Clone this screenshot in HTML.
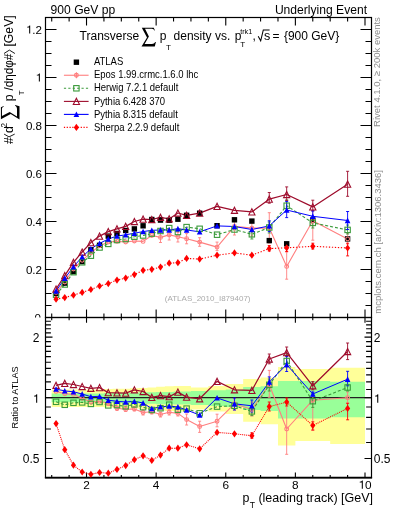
<!DOCTYPE html><html><head><meta charset="utf-8"><style>html,body{margin:0;padding:0;width:393px;height:512px;overflow:hidden;background:#fff}</style></head><body>
<svg width="393" height="512" viewBox="0 0 393 512" style="position:absolute;left:0;top:0;will-change:transform">
<rect width="393" height="512" fill="#fff"/>
<path d="M51.71,389.46 L60.41,389.46 L60.41,389.46 L69.12,389.46 L69.12,389.46 L77.82,389.46 L77.82,389.46 L86.52,389.46 L86.52,389.46 L95.22,389.46 L95.22,389.46 L103.93,389.46 L103.93,389.06 L112.63,389.06 L112.63,388.67 L121.33,388.67 L121.33,388.67 L130.03,388.67 L130.03,388.28 L138.74,388.28 L138.74,387.88 L147.44,387.88 L147.44,387.49 L156.14,387.49 L156.14,386.72 L164.84,386.72 L164.84,386.34 L173.55,386.34 L173.55,385.95 L182.25,385.95 L182.25,385.95 L190.95,385.95 L190.95,387.49 L208.36,387.49 L208.36,385.95 L225.76,385.95 L225.76,384.06 L243.17,384.06 L243.17,378.98 L260.57,378.98 L260.57,377.58 L277.98,377.58 L277.98,367.12 L295.38,367.12 L295.38,368.99 L330.19,368.99 L330.19,367.74 L365.00,367.74 L365.00,443.97 L330.19,443.97 L330.19,441.05 L295.38,441.05 L295.38,445.46 L277.98,445.46 L277.98,424.15 L260.57,424.15 L260.57,421.81 L243.17,421.81 L243.17,414.10 L225.76,414.10 L225.76,411.51 L208.36,411.51 L208.36,409.48 L190.95,409.48 L190.95,411.51 L182.25,411.51 L182.25,411.51 L173.55,411.51 L173.55,411.00 L164.84,411.00 L164.84,410.49 L156.14,410.49 L156.14,409.48 L147.44,409.48 L147.44,408.99 L138.74,408.99 L138.74,408.49 L130.03,408.49 L130.03,408.00 L121.33,408.00 L121.33,408.00 L112.63,408.00 L112.63,407.51 L103.93,407.51 L103.93,407.02 L95.22,407.02 L95.22,407.02 L86.52,407.02 L86.52,407.02 L77.82,407.02 L77.82,407.02 L69.12,407.02 L69.12,407.02 L60.41,407.02 L60.41,407.02 L51.71,407.02Z" fill="#ffff99"/>
<path d="M51.71,393.53 L60.41,393.53 L60.41,393.53 L69.12,393.53 L69.12,393.53 L77.82,393.53 L77.82,393.53 L86.52,393.53 L86.52,393.53 L95.22,393.53 L95.22,393.53 L103.93,393.53 L103.93,393.12 L112.63,393.12 L112.63,393.12 L121.33,393.12 L121.33,392.70 L130.03,392.70 L130.03,392.70 L138.74,392.70 L138.74,392.29 L147.44,392.29 L147.44,392.29 L156.14,392.29 L156.14,391.88 L164.84,391.88 L164.84,391.88 L173.55,391.88 L173.55,391.47 L182.25,391.47 L182.25,391.47 L190.95,391.47 L190.95,391.07 L208.36,391.07 L208.36,390.26 L225.76,390.26 L225.76,389.46 L243.17,389.46 L243.17,387.11 L260.57,387.11 L260.57,386.34 L277.98,386.34 L277.98,381.12 L295.38,381.12 L295.38,381.12 L330.19,381.12 L330.19,381.85 L365.00,381.85 L365.00,417.33 L330.19,417.33 L330.19,418.43 L295.38,418.43 L295.38,418.43 L277.98,418.43 L277.98,411.00 L260.57,411.00 L260.57,409.99 L243.17,409.99 L243.17,407.02 L225.76,407.02 L225.76,406.05 L208.36,406.05 L208.36,405.10 L190.95,405.10 L190.95,404.62 L182.25,404.62 L182.25,404.62 L173.55,404.62 L173.55,404.15 L164.84,404.15 L164.84,404.15 L156.14,404.15 L156.14,403.68 L147.44,403.68 L147.44,403.68 L138.74,403.68 L138.74,403.21 L130.03,403.21 L130.03,403.21 L121.33,403.21 L121.33,402.75 L112.63,402.75 L112.63,402.75 L103.93,402.75 L103.93,402.29 L95.22,402.29 L95.22,402.29 L86.52,402.29 L86.52,402.29 L77.82,402.29 L77.82,402.29 L69.12,402.29 L69.12,402.29 L60.41,402.29 L60.41,402.29 L51.71,402.29Z" fill="#99ff99"/>
<line x1="45.5" y1="397.6" x2="371.5" y2="397.6" stroke="#222" stroke-width="1.1"/>
<g stroke="#000" stroke-width="1.2" fill="none">
<rect x="45.5" y="17.5" width="326.0" height="300.0"/>
<rect x="45.5" y="317.5" width="326.0" height="160.2"/>
</g>
<line x1="44.9" y1="477.6" x2="372.1" y2="477.6" stroke="#000" stroke-width="1.9"/>
<path d="M45.5,317.50h11M371.5,317.50h-11M45.5,305.50h6M371.5,305.50h-6M45.5,293.50h6M371.5,293.50h-6M45.5,281.50h6M371.5,281.50h-6M45.5,269.50h11M371.5,269.50h-11M45.5,257.50h6M371.5,257.50h-6M45.5,245.50h6M371.5,245.50h-6M45.5,233.50h6M371.5,233.50h-6M45.5,221.50h11M371.5,221.50h-11M45.5,209.50h6M371.5,209.50h-6M45.5,197.50h6M371.5,197.50h-6M45.5,185.50h6M371.5,185.50h-6M45.5,173.50h11M371.5,173.50h-11M45.5,161.50h6M371.5,161.50h-6M45.5,149.50h6M371.5,149.50h-6M45.5,137.50h6M371.5,137.50h-6M45.5,125.50h11M371.5,125.50h-11M45.5,113.50h6M371.5,113.50h-6M45.5,101.50h6M371.5,101.50h-6M45.5,89.50h6M371.5,89.50h-6M45.5,77.50h11M371.5,77.50h-11M45.5,65.50h6M371.5,65.50h-6M45.5,53.50h6M371.5,53.50h-6M45.5,41.50h6M371.5,41.50h-6M45.5,29.50h11M371.5,29.50h-11M45.5,17.50h6M371.5,17.50h-6M51.71,317.5v-4M51.71,17.5v4M51.71,317.5v2.7M51.71,477.7v-2.7M69.12,317.5v-4M69.12,17.5v4M69.12,317.5v2.7M69.12,477.7v-2.7M86.52,317.5v-8M86.52,17.5v8M86.52,317.5v5.3M86.52,477.7v-5.3M103.93,317.5v-4M103.93,17.5v4M103.93,317.5v2.7M103.93,477.7v-2.7M121.33,317.5v-4M121.33,17.5v4M121.33,317.5v2.7M121.33,477.7v-2.7M138.74,317.5v-4M138.74,17.5v4M138.74,317.5v2.7M138.74,477.7v-2.7M156.14,317.5v-8M156.14,17.5v8M156.14,317.5v5.3M156.14,477.7v-5.3M173.55,317.5v-4M173.55,17.5v4M173.55,317.5v2.7M173.55,477.7v-2.7M190.95,317.5v-4M190.95,17.5v4M190.95,317.5v2.7M190.95,477.7v-2.7M208.36,317.5v-4M208.36,17.5v4M208.36,317.5v2.7M208.36,477.7v-2.7M225.76,317.5v-8M225.76,17.5v8M225.76,317.5v5.3M225.76,477.7v-5.3M243.17,317.5v-4M243.17,17.5v4M243.17,317.5v2.7M243.17,477.7v-2.7M260.57,317.5v-4M260.57,17.5v4M260.57,317.5v2.7M260.57,477.7v-2.7M277.98,317.5v-4M277.98,17.5v4M277.98,317.5v2.7M277.98,477.7v-2.7M295.38,317.5v-8M295.38,17.5v8M295.38,317.5v5.3M295.38,477.7v-5.3M312.78,317.5v-4M312.78,17.5v4M312.78,317.5v2.7M312.78,477.7v-2.7M330.19,317.5v-4M330.19,17.5v4M330.19,317.5v2.7M330.19,477.7v-2.7M347.60,317.5v-4M347.60,17.5v4M347.60,317.5v2.7M347.60,477.7v-2.7M365.00,317.5v-8M365.00,17.5v8M365.00,317.5v5.3M365.00,477.7v-5.3M45.5,458.45h7M371.5,458.45h-7M45.5,442.50h5.4M371.5,442.50h-5.4M45.5,429.01h5.4M371.5,429.01h-5.4M45.5,417.33h5.4M371.5,417.33h-5.4M45.5,407.02h5.4M371.5,407.02h-5.4M45.5,397.80h7M371.5,397.80h-7M45.5,389.46h5.4M371.5,389.46h-5.4M45.5,381.85h5.4M371.5,381.85h-5.4M45.5,374.84h5.4M371.5,374.84h-5.4M45.5,368.36h5.4M371.5,368.36h-5.4M45.5,362.32h5.4M371.5,362.32h-5.4M45.5,356.67h5.4M371.5,356.67h-5.4M45.5,351.37h5.4M371.5,351.37h-5.4M45.5,346.37h5.4M371.5,346.37h-5.4M45.5,341.64h5.4M371.5,341.64h-5.4M45.5,337.15h7M371.5,337.15h-7M45.5,332.88h5.4M371.5,332.88h-5.4M45.5,328.81h5.4M371.5,328.81h-5.4M45.5,324.92h5.4M371.5,324.92h-5.4M45.5,321.20h5.4M371.5,321.20h-5.4" stroke="#000" stroke-width="1.1" fill="none"/>
<g><path d="M29.17,33.60 L30.20,33.60 L30.20,25.45 L29.36,25.45 L29.18,25.94 L28.83,26.35 L28.20,26.64 L27.14,26.76 L27.14,27.51 L29.17,27.51Z" fill="#000"/><text x="32.33" y="33.60" font-family="Liberation Sans, sans-serif" font-size="11.6">.2</text></g>
<g><path d="M38.84,81.60 L39.88,81.60 L39.88,73.45 L39.03,73.45 L38.86,73.94 L38.51,74.35 L37.87,74.64 L36.81,74.76 L36.81,75.51 L38.84,75.51Z" fill="#000"/></g>
<g><text x="25.88" y="129.60" font-family="Liberation Sans, sans-serif" font-size="11.6">0.8</text></g>
<g><text x="25.88" y="177.60" font-family="Liberation Sans, sans-serif" font-size="11.6">0.6</text></g>
<g><text x="25.88" y="225.60" font-family="Liberation Sans, sans-serif" font-size="11.6">0.4</text></g>
<g><text x="25.88" y="273.60" font-family="Liberation Sans, sans-serif" font-size="11.6">0.2</text></g>
<clipPath id="c0"><rect x="0" y="0" width="45" height="317.5"/></clipPath>
<g clip-path="url(#c0)"><text x="34.55" y="321.60" font-family="Liberation Sans, sans-serif" font-size="11.6">0</text></g>
<g><text x="32.73" y="342.15" font-family="Liberation Sans, sans-serif" font-size="12.0">2</text></g>
<g><path d="M36.14,402.80 L37.20,402.80 L37.20,394.36 L36.33,394.36 L36.15,394.88 L35.79,395.30 L35.13,395.60 L34.04,395.72 L34.04,396.50 L36.14,396.50Z" fill="#000"/></g>
<g><text x="22.72" y="463.45" font-family="Liberation Sans, sans-serif" font-size="12.0">0.5</text></g>
<g><text x="373.80" y="342.15" font-family="Liberation Sans, sans-serif" font-size="12.0">2</text></g>
<g><path d="M377.21,402.80 L378.28,402.80 L378.28,394.36 L377.40,394.36 L377.22,394.88 L376.86,395.30 L376.20,395.60 L375.11,395.72 L375.11,396.50 L377.21,396.50Z" fill="#000"/></g>
<g><text x="373.80" y="463.45" font-family="Liberation Sans, sans-serif" font-size="12.0">0.5</text></g>
<g><text x="83.24" y="488.70" font-family="Liberation Sans, sans-serif" font-size="11.8">2</text></g>
<g><text x="152.86" y="488.70" font-family="Liberation Sans, sans-serif" font-size="11.8">4</text></g>
<g><text x="222.48" y="488.70" font-family="Liberation Sans, sans-serif" font-size="11.8">6</text></g>
<g><text x="292.10" y="488.70" font-family="Liberation Sans, sans-serif" font-size="11.8">8</text></g>
<g><path d="M361.79,488.70 L362.84,488.70 L362.84,480.40 L361.98,480.40 L361.80,480.91 L361.45,481.32 L360.80,481.62 L359.73,481.74 L359.73,482.50 L361.79,482.50Z" fill="#000"/><text x="365.00" y="488.70" font-family="Liberation Sans, sans-serif" font-size="11.8">0</text></g>
<text x="50.6" y="13.7" font-family="Liberation Sans, sans-serif" font-size="12.1">900 GeV pp</text>
<text x="367.0" y="13.7" font-family="Liberation Sans, sans-serif" font-size="12.1" text-anchor="end">Underlying Event</text>
<g font-family="Liberation Sans, sans-serif" font-size="12.0" fill="#000">
<text x="79.6" y="40.0">Transverse</text>
<path d="M1.8,1.8 L13.8,1.8 L14.9,4.6 L14.3,4.6 C13.9,3.6 13.2,2.85 11.8,2.85 L5.0,2.85 L8.9,10.6 L4.6,17.9 L12.0,17.9 C13.4,17.9 14.6,17.2 15.2,16.0 L15.9,16.0 L14.8,20.4 L1.5,20.4 L7.0,11.6 Z" transform="translate(140,26)" fill="#000"/>
<text x="159.8" y="40.0">p</text>
<text x="166.0" y="50.0" font-size="8.1">T</text>
<text x="173.6" y="40.0">density vs.</text>
<text x="234.7" y="40.0">p</text>
<text x="240.2" y="33.6" font-size="7.2">trk1</text>
<text x="240.3" y="46.6" font-size="8.1">T</text>
<text x="252.4" y="40.0">,</text>
<path d="M258.2,36.2 L260.7,40.8 L263.3,29.9 L269.6,29.9" stroke="#000" stroke-width="1.05" fill="none"/>
<text x="263.9" y="40.0" font-size="12.6">s</text>
<text x="272.6" y="40.0">=</text>
<text x="283.9" y="40.0">{900 GeV}</text>
</g>
<g font-family="Liberation Sans, sans-serif" font-size="9.5" fill="#000">
<text transform="translate(93.9,65.30) scale(1,1.08)">ATLAS</text>
<text transform="translate(93.9,78.35) scale(1,1.08)">Epos 1.99.crmc.1.6.0 lhc</text>
<text transform="translate(93.9,91.40) scale(1,1.08)">Herwig 7.2.1 default</text>
<text transform="translate(93.9,104.50) scale(1,1.08)">Pythia 6.428 370</text>
<text transform="translate(93.9,117.50) scale(1,1.08)">Pythia 8.315 default</text>
<text transform="translate(93.9,130.50) scale(1,1.08)">Sherpa 2.2.9 default</text>
</g>
<rect x="73.70" y="59.50" width="5.4" height="5.4" fill="#000"/>
<line x1="63.9" y1="75.25" x2="88.6" y2="75.25" stroke="#ff7f7f" stroke-width="1.1"/>
<line x1="76.4" y1="72.25" x2="76.4" y2="78.25" stroke="#ff7f7f" stroke-width="1"/>
<circle cx="76.40" cy="75.25" r="1.9" fill="none" stroke="#ff7f7f" stroke-width="1.1"/>
<line x1="63.9" y1="88.3" x2="88.6" y2="88.3" stroke="#3a9a3a" stroke-width="1.1" stroke-dasharray="2.2,2.2"/>
<rect x="73.70" y="85.60" width="5.4" height="5.4" fill="none" stroke="#3a9a3a" stroke-width="1.1"/>
<line x1="63.9" y1="101.4" x2="88.6" y2="101.4" stroke="#9e0c2c" stroke-width="1.1"/>
<path d="M76.40,98.30L79.50,104.50L73.30,104.50Z" fill="none" stroke="#9e0c2c" stroke-width="1.1" stroke-linejoin="miter"/>
<line x1="63.9" y1="114.4" x2="88.6" y2="114.4" stroke="#0000ff" stroke-width="1.1"/>
<path d="M76.40,111.50L79.20,117.10L73.60,117.10Z" fill="#0000ff"/>
<line x1="63.9" y1="127.4" x2="88.6" y2="127.4" stroke="#ff0000" stroke-width="1.1" stroke-dasharray="1.2,1.6"/>
<path d="M76.40,123.80L79.00,127.40L76.40,131.00L73.80,127.40Z" fill="#ff0000"/>
<text transform="translate(379.9,126.9) rotate(-90)" font-family="Liberation Sans, sans-serif" font-size="9.5" fill="#8c8c8c">Rivet 4.1.0, ≥ 200k events</text>
<text transform="translate(381.4,313.7) rotate(-90)" font-family="Liberation Sans, sans-serif" font-size="9.5" fill="#8c8c8c">mcplots.cern.ch [arXiv:1306.3436]</text>
<text x="164.8" y="301.0" font-family="Liberation Sans, sans-serif" font-size="8" fill="#aaa">(ATLAS_2010_I879407)</text>
<g font-family="Liberation Sans, sans-serif" font-size="12.4" fill="#000">
<text x="242.6" y="502.4">p</text>
<text x="249.8" y="508.0" font-size="8.6">T</text>
<text x="258.4" y="502.4" font-size="12.5">(leading track) [GeV]</text>
</g>
<text transform="translate(18.3,428.4) rotate(-90)" font-family="Liberation Sans, sans-serif" font-size="9.2" fill="#000">Ratio to ATLAS</text>
<g transform="translate(13.3,143.7) rotate(-90)" font-family="Liberation Sans, sans-serif" font-size="12.2" fill="#000">
<text x="-0.2" y="0">#</text>
<path d="M9.6,-9.2 L6.8,-4.3 L9.6,1.4" stroke="#000" stroke-width="0.9" fill="none"/>
<text x="10.7" y="0">d</text>
<text x="16.1" y="-6.0" font-size="8.2">2</text>
<path d="M1.8,1.8 L13.8,1.8 L14.9,4.6 L14.3,4.6 C13.9,3.6 13.2,2.85 11.8,2.85 L5.0,2.85 L8.9,10.6 L4.6,17.9 L12.0,17.9 C13.4,17.9 14.6,17.2 15.2,16.0 L15.9,16.0 L14.8,20.4 L1.5,20.4 L7.0,11.6 Z" transform="translate(22.7,-14.2)" fill="#000"/>
<text x="42.5" y="0">p</text>
<text x="48.4" y="10.4" font-size="8">T</text>
<text x="53.3" y="0" textLength="36.6" lengthAdjust="spacingAndGlyphs">/dηdφ#</text>
<path d="M90.2,-9.3 L93.6,-3.9 L90.2,1.6" stroke="#000" stroke-width="0.9" fill="none"/>
<text x="97.2" y="0">[GeV]</text>
</g>
<clipPath id="ctop"><rect x="45.5" y="17.5" width="326.0" height="300.0"/></clipPath>
<clipPath id="crat"><rect x="45.5" y="317.5" width="326.0" height="160.2"/></clipPath>
<g clip-path="url(#ctop)">
<path d="M56.06,292.40 L64.76,282.00 L73.47,269.00 L82.17,260.30 L90.87,252.70 L99.57,245.90 L108.28,242.00 L116.98,241.40 L125.68,242.00 L134.38,241.00 L143.09,241.40 L151.79,235.50 L160.49,237.40 L169.19,234.90 L177.90,236.80 L186.60,238.70 L199.65,242.10 L217.06,247.10 L234.46,226.40 L251.87,228.10 L269.27,228.00 L286.68,266.40 L312.79,220.70 L347.60,238.90" stroke="#ff7f7f" stroke-width="1.1" fill="none" stroke-linejoin="round"/>
<path d="M56.06,294.70 L64.76,284.50 L73.47,272.20 L82.17,262.30 L90.87,255.70 L99.57,247.50 L108.28,243.90 L116.98,240.00 L125.68,239.00 L134.38,236.70 L143.09,235.50 L151.79,233.60 L160.49,231.00 L169.19,228.10 L177.90,232.00 L186.60,227.10 L199.65,228.80 L217.06,234.70 L234.46,229.50 L251.87,234.30 L269.27,227.50 L286.68,205.70 L312.79,222.90 L347.60,229.90" stroke="#3a9a3a" stroke-width="1.1" fill="none" stroke-dasharray="3,2" stroke-linejoin="round"/>
<path d="M56.06,289.00 L64.76,275.70 L73.47,262.30 L82.17,252.00 L90.87,242.60 L99.57,236.10 L108.28,231.60 L116.98,228.90 L125.68,226.40 L134.38,221.50 L143.09,219.10 L151.79,219.50 L160.49,217.30 L169.19,218.90 L177.90,213.00 L186.60,215.40 L199.65,213.20 L217.06,206.40 L234.46,210.30 L251.87,211.90 L269.27,199.20 L286.68,194.50 L312.79,206.90 L347.60,184.20" stroke="#9e0c2c" stroke-width="1.25" fill="none" stroke-linejoin="round"/>
<path d="M56.06,291.00 L64.76,278.40 L73.47,266.70 L82.17,256.90 L90.87,248.80 L99.57,243.40 L108.28,239.00 L116.98,236.10 L125.68,234.80 L134.38,233.20 L143.09,231.60 L151.79,230.30 L160.49,230.00 L169.19,230.00 L177.90,228.70 L186.60,230.00 L199.65,231.80 L217.06,225.90 L234.46,226.50 L251.87,229.50 L269.27,225.90 L286.68,210.00 L312.79,216.30 L347.60,220.50" stroke="#0000ff" stroke-width="1.0" fill="none" stroke-linejoin="round"/>
<path d="M56.06,299.20 L64.76,297.60 L73.47,295.10 L82.17,292.40 L90.87,289.50 L99.57,286.00 L108.28,283.60 L116.98,280.10 L125.68,278.10 L134.38,274.60 L143.09,270.30 L151.79,269.30 L160.49,267.10 L169.19,263.20 L177.90,262.70 L186.60,258.40 L199.65,259.10 L217.06,255.20 L234.46,252.90 L251.87,255.20 L269.27,248.60 L286.68,247.80 L312.79,246.30 L347.60,248.00" stroke="#ff0000" stroke-width="1.1" fill="none" stroke-dasharray="1.3,1.7" stroke-linejoin="round"/>
<path d="M160.49,232.00V242.50M158.99,232.00h3.0M158.99,242.50h3.0M169.19,230.00V240.00M167.69,230.00h3.0M167.69,240.00h3.0M177.90,232.50V242.00M176.40,232.50h3.0M176.40,242.00h3.0M186.60,233.60V243.80M185.10,233.60h3.0M185.10,243.80h3.0M199.65,237.70V246.30M198.15,237.70h3.0M198.15,246.30h3.0M217.06,242.10V250.40M215.56,242.10h3.0M215.56,250.40h3.0M234.46,218.00V235.00M232.96,218.00h3.0M232.96,235.00h3.0M251.87,220.00V236.00M250.37,220.00h3.0M250.37,236.00h3.0M269.27,212.70V243.00M267.77,212.70h3.0M267.77,243.00h3.0M286.68,252.00V279.20M285.18,252.00h3.0M285.18,279.20h3.0M312.79,210.30V240.20M311.29,210.30h3.0M311.29,240.20h3.0M347.60,233.00V244.00M346.10,233.00h3.0M346.10,244.00h3.0" stroke="#ff7f7f" stroke-width="0.9" fill="none"/>
<path d="M251.87,230.50V239.00M250.37,230.50h3.0M250.37,239.00h3.0M269.27,222.00V233.00M267.77,222.00h3.0M267.77,233.00h3.0M286.68,200.00V211.50M285.18,200.00h3.0M285.18,211.50h3.0M312.79,218.00V228.00M311.29,218.00h3.0M311.29,228.00h3.0M347.60,225.00V234.00M346.10,225.00h3.0M346.10,234.00h3.0" stroke="#3a9a3a" stroke-width="0.9" fill="none"/>
<path d="M269.27,192.50V203.20M267.77,192.50h3.0M267.77,203.20h3.0M286.68,186.90V200.40M285.18,186.90h3.0M285.18,200.40h3.0M312.79,200.20V210.90M311.29,200.20h3.0M311.29,210.90h3.0M347.60,171.30V196.30M346.10,171.30h3.0M346.10,196.30h3.0" stroke="#9e0c2c" stroke-width="0.9" fill="none"/>
<path d="M269.27,220.80V231.60M267.77,220.80h3.0M267.77,231.60h3.0M286.68,201.50V217.60M285.18,201.50h3.0M285.18,217.60h3.0M312.79,210.90V221.70M311.29,210.90h3.0M311.29,221.70h3.0M347.60,211.50V229.50M346.10,211.50h3.0M346.10,229.50h3.0" stroke="#0000ff" stroke-width="0.9" fill="none"/>
<path d="M269.27,245.50V251.00M267.77,245.50h3.0M267.77,251.00h3.0M286.68,245.00V251.50M285.18,245.00h3.0M285.18,251.50h3.0M312.79,243.20V249.00M311.29,243.20h3.0M311.29,249.00h3.0M347.60,243.20V255.90M346.10,243.20h3.0M346.10,255.90h3.0" stroke="#ff0000" stroke-width="0.9" fill="none"/>
<rect x="53.36" y="290.80" width="5.4" height="5.4" fill="#000"/>
<rect x="62.06" y="280.40" width="5.4" height="5.4" fill="#000"/>
<rect x="70.77" y="268.90" width="5.4" height="5.4" fill="#000"/>
<rect x="79.47" y="258.90" width="5.4" height="5.4" fill="#000"/>
<rect x="88.17" y="247.10" width="5.4" height="5.4" fill="#000"/>
<rect x="96.87" y="242.60" width="5.4" height="5.4" fill="#000"/>
<rect x="105.58" y="233.40" width="5.4" height="5.4" fill="#000"/>
<rect x="114.28" y="230.80" width="5.4" height="5.4" fill="#000"/>
<rect x="122.98" y="227.80" width="5.4" height="5.4" fill="#000"/>
<rect x="131.68" y="226.20" width="5.4" height="5.4" fill="#000"/>
<rect x="140.39" y="223.10" width="5.4" height="5.4" fill="#000"/>
<rect x="149.09" y="216.80" width="5.4" height="5.4" fill="#000"/>
<rect x="157.79" y="217.40" width="5.4" height="5.4" fill="#000"/>
<rect x="166.49" y="217.60" width="5.4" height="5.4" fill="#000"/>
<rect x="175.20" y="216.50" width="5.4" height="5.4" fill="#000"/>
<rect x="183.90" y="212.60" width="5.4" height="5.4" fill="#000"/>
<rect x="196.95" y="210.50" width="5.4" height="5.4" fill="#000"/>
<rect x="214.36" y="223.00" width="5.4" height="5.4" fill="#000"/>
<rect x="231.76" y="217.10" width="5.4" height="5.4" fill="#000"/>
<rect x="249.17" y="218.40" width="5.4" height="5.4" fill="#000"/>
<rect x="266.57" y="237.90" width="5.4" height="5.4" fill="#000"/>
<rect x="283.98" y="241.10" width="5.4" height="5.4" fill="#000"/>
<rect x="310.09" y="217.30" width="5.4" height="5.4" fill="#000"/>
<rect x="344.90" y="236.20" width="5.4" height="5.4" fill="#000"/>
<circle cx="56.06" cy="292.40" r="1.9" fill="none" stroke="#ff7f7f" stroke-width="1.1"/>
<circle cx="64.76" cy="282.00" r="1.9" fill="none" stroke="#ff7f7f" stroke-width="1.1"/>
<circle cx="73.47" cy="269.00" r="1.9" fill="none" stroke="#ff7f7f" stroke-width="1.1"/>
<circle cx="82.17" cy="260.30" r="1.9" fill="none" stroke="#ff7f7f" stroke-width="1.1"/>
<circle cx="90.87" cy="252.70" r="1.9" fill="none" stroke="#ff7f7f" stroke-width="1.1"/>
<circle cx="99.57" cy="245.90" r="1.9" fill="none" stroke="#ff7f7f" stroke-width="1.1"/>
<circle cx="108.28" cy="242.00" r="1.9" fill="none" stroke="#ff7f7f" stroke-width="1.1"/>
<circle cx="116.98" cy="241.40" r="1.9" fill="none" stroke="#ff7f7f" stroke-width="1.1"/>
<circle cx="125.68" cy="242.00" r="1.9" fill="none" stroke="#ff7f7f" stroke-width="1.1"/>
<circle cx="134.38" cy="241.00" r="1.9" fill="none" stroke="#ff7f7f" stroke-width="1.1"/>
<circle cx="143.09" cy="241.40" r="1.9" fill="none" stroke="#ff7f7f" stroke-width="1.1"/>
<circle cx="151.79" cy="235.50" r="1.9" fill="none" stroke="#ff7f7f" stroke-width="1.1"/>
<circle cx="160.49" cy="237.40" r="1.9" fill="none" stroke="#ff7f7f" stroke-width="1.1"/>
<circle cx="169.19" cy="234.90" r="1.9" fill="none" stroke="#ff7f7f" stroke-width="1.1"/>
<circle cx="177.90" cy="236.80" r="1.9" fill="none" stroke="#ff7f7f" stroke-width="1.1"/>
<circle cx="186.60" cy="238.70" r="1.9" fill="none" stroke="#ff7f7f" stroke-width="1.1"/>
<circle cx="199.65" cy="242.10" r="1.9" fill="none" stroke="#ff7f7f" stroke-width="1.1"/>
<circle cx="217.06" cy="247.10" r="1.9" fill="none" stroke="#ff7f7f" stroke-width="1.1"/>
<circle cx="234.46" cy="226.40" r="1.9" fill="none" stroke="#ff7f7f" stroke-width="1.1"/>
<circle cx="251.87" cy="228.10" r="1.9" fill="none" stroke="#ff7f7f" stroke-width="1.1"/>
<circle cx="269.27" cy="228.00" r="1.9" fill="none" stroke="#ff7f7f" stroke-width="1.1"/>
<circle cx="286.68" cy="266.40" r="1.9" fill="none" stroke="#ff7f7f" stroke-width="1.1"/>
<circle cx="312.79" cy="220.70" r="1.9" fill="none" stroke="#ff7f7f" stroke-width="1.1"/>
<circle cx="347.60" cy="238.90" r="1.9" fill="none" stroke="#ff7f7f" stroke-width="1.1"/>
<rect x="53.36" y="292.00" width="5.4" height="5.4" fill="none" stroke="#3a9a3a" stroke-width="1.1"/>
<rect x="62.06" y="281.80" width="5.4" height="5.4" fill="none" stroke="#3a9a3a" stroke-width="1.1"/>
<rect x="70.77" y="269.50" width="5.4" height="5.4" fill="none" stroke="#3a9a3a" stroke-width="1.1"/>
<rect x="79.47" y="259.60" width="5.4" height="5.4" fill="none" stroke="#3a9a3a" stroke-width="1.1"/>
<rect x="88.17" y="253.00" width="5.4" height="5.4" fill="none" stroke="#3a9a3a" stroke-width="1.1"/>
<rect x="96.87" y="244.80" width="5.4" height="5.4" fill="none" stroke="#3a9a3a" stroke-width="1.1"/>
<rect x="105.58" y="241.20" width="5.4" height="5.4" fill="none" stroke="#3a9a3a" stroke-width="1.1"/>
<rect x="114.28" y="237.30" width="5.4" height="5.4" fill="none" stroke="#3a9a3a" stroke-width="1.1"/>
<rect x="122.98" y="236.30" width="5.4" height="5.4" fill="none" stroke="#3a9a3a" stroke-width="1.1"/>
<rect x="131.68" y="234.00" width="5.4" height="5.4" fill="none" stroke="#3a9a3a" stroke-width="1.1"/>
<rect x="140.39" y="232.80" width="5.4" height="5.4" fill="none" stroke="#3a9a3a" stroke-width="1.1"/>
<rect x="149.09" y="230.90" width="5.4" height="5.4" fill="none" stroke="#3a9a3a" stroke-width="1.1"/>
<rect x="157.79" y="228.30" width="5.4" height="5.4" fill="none" stroke="#3a9a3a" stroke-width="1.1"/>
<rect x="166.49" y="225.40" width="5.4" height="5.4" fill="none" stroke="#3a9a3a" stroke-width="1.1"/>
<rect x="175.20" y="229.30" width="5.4" height="5.4" fill="none" stroke="#3a9a3a" stroke-width="1.1"/>
<rect x="183.90" y="224.40" width="5.4" height="5.4" fill="none" stroke="#3a9a3a" stroke-width="1.1"/>
<rect x="196.95" y="226.10" width="5.4" height="5.4" fill="none" stroke="#3a9a3a" stroke-width="1.1"/>
<rect x="214.36" y="232.00" width="5.4" height="5.4" fill="none" stroke="#3a9a3a" stroke-width="1.1"/>
<rect x="231.76" y="226.80" width="5.4" height="5.4" fill="none" stroke="#3a9a3a" stroke-width="1.1"/>
<rect x="249.17" y="231.60" width="5.4" height="5.4" fill="none" stroke="#3a9a3a" stroke-width="1.1"/>
<rect x="266.57" y="224.80" width="5.4" height="5.4" fill="none" stroke="#3a9a3a" stroke-width="1.1"/>
<rect x="283.98" y="203.00" width="5.4" height="5.4" fill="none" stroke="#3a9a3a" stroke-width="1.1"/>
<rect x="310.09" y="220.20" width="5.4" height="5.4" fill="none" stroke="#3a9a3a" stroke-width="1.1"/>
<rect x="344.90" y="227.20" width="5.4" height="5.4" fill="none" stroke="#3a9a3a" stroke-width="1.1"/>
<path d="M56.06,285.90L59.16,292.10L52.96,292.10Z" fill="none" stroke="#9e0c2c" stroke-width="1.1" stroke-linejoin="miter"/>
<path d="M64.76,272.60L67.86,278.80L61.66,278.80Z" fill="none" stroke="#9e0c2c" stroke-width="1.1" stroke-linejoin="miter"/>
<path d="M73.47,259.20L76.57,265.40L70.37,265.40Z" fill="none" stroke="#9e0c2c" stroke-width="1.1" stroke-linejoin="miter"/>
<path d="M82.17,248.90L85.27,255.10L79.07,255.10Z" fill="none" stroke="#9e0c2c" stroke-width="1.1" stroke-linejoin="miter"/>
<path d="M90.87,239.50L93.97,245.70L87.77,245.70Z" fill="none" stroke="#9e0c2c" stroke-width="1.1" stroke-linejoin="miter"/>
<path d="M99.57,233.00L102.67,239.20L96.47,239.20Z" fill="none" stroke="#9e0c2c" stroke-width="1.1" stroke-linejoin="miter"/>
<path d="M108.28,228.50L111.38,234.70L105.18,234.70Z" fill="none" stroke="#9e0c2c" stroke-width="1.1" stroke-linejoin="miter"/>
<path d="M116.98,225.80L120.08,232.00L113.88,232.00Z" fill="none" stroke="#9e0c2c" stroke-width="1.1" stroke-linejoin="miter"/>
<path d="M125.68,223.30L128.78,229.50L122.58,229.50Z" fill="none" stroke="#9e0c2c" stroke-width="1.1" stroke-linejoin="miter"/>
<path d="M134.38,218.40L137.48,224.60L131.28,224.60Z" fill="none" stroke="#9e0c2c" stroke-width="1.1" stroke-linejoin="miter"/>
<path d="M143.09,216.00L146.19,222.20L139.99,222.20Z" fill="none" stroke="#9e0c2c" stroke-width="1.1" stroke-linejoin="miter"/>
<path d="M151.79,216.40L154.89,222.60L148.69,222.60Z" fill="none" stroke="#9e0c2c" stroke-width="1.1" stroke-linejoin="miter"/>
<path d="M160.49,214.20L163.59,220.40L157.39,220.40Z" fill="none" stroke="#9e0c2c" stroke-width="1.1" stroke-linejoin="miter"/>
<path d="M169.19,215.80L172.29,222.00L166.09,222.00Z" fill="none" stroke="#9e0c2c" stroke-width="1.1" stroke-linejoin="miter"/>
<path d="M177.90,209.90L181.00,216.10L174.80,216.10Z" fill="none" stroke="#9e0c2c" stroke-width="1.1" stroke-linejoin="miter"/>
<path d="M186.60,212.30L189.70,218.50L183.50,218.50Z" fill="none" stroke="#9e0c2c" stroke-width="1.1" stroke-linejoin="miter"/>
<path d="M199.65,210.10L202.75,216.30L196.55,216.30Z" fill="none" stroke="#9e0c2c" stroke-width="1.1" stroke-linejoin="miter"/>
<path d="M217.06,203.30L220.16,209.50L213.96,209.50Z" fill="none" stroke="#9e0c2c" stroke-width="1.1" stroke-linejoin="miter"/>
<path d="M234.46,207.20L237.56,213.40L231.36,213.40Z" fill="none" stroke="#9e0c2c" stroke-width="1.1" stroke-linejoin="miter"/>
<path d="M251.87,208.80L254.97,215.00L248.77,215.00Z" fill="none" stroke="#9e0c2c" stroke-width="1.1" stroke-linejoin="miter"/>
<path d="M269.27,196.10L272.37,202.30L266.17,202.30Z" fill="none" stroke="#9e0c2c" stroke-width="1.1" stroke-linejoin="miter"/>
<path d="M286.68,191.40L289.78,197.60L283.58,197.60Z" fill="none" stroke="#9e0c2c" stroke-width="1.1" stroke-linejoin="miter"/>
<path d="M312.79,203.80L315.89,210.00L309.69,210.00Z" fill="none" stroke="#9e0c2c" stroke-width="1.1" stroke-linejoin="miter"/>
<path d="M347.60,181.10L350.70,187.30L344.50,187.30Z" fill="none" stroke="#9e0c2c" stroke-width="1.1" stroke-linejoin="miter"/>
<path d="M56.06,288.10L58.86,293.70L53.26,293.70Z" fill="#0000ff"/>
<path d="M64.76,275.50L67.56,281.10L61.96,281.10Z" fill="#0000ff"/>
<path d="M73.47,263.80L76.27,269.40L70.67,269.40Z" fill="#0000ff"/>
<path d="M82.17,254.00L84.97,259.60L79.37,259.60Z" fill="#0000ff"/>
<path d="M90.87,245.90L93.67,251.50L88.07,251.50Z" fill="#0000ff"/>
<path d="M99.57,240.50L102.37,246.10L96.77,246.10Z" fill="#0000ff"/>
<path d="M108.28,236.10L111.08,241.70L105.48,241.70Z" fill="#0000ff"/>
<path d="M116.98,233.20L119.78,238.80L114.18,238.80Z" fill="#0000ff"/>
<path d="M125.68,231.90L128.48,237.50L122.88,237.50Z" fill="#0000ff"/>
<path d="M134.38,230.30L137.18,235.90L131.58,235.90Z" fill="#0000ff"/>
<path d="M143.09,228.70L145.89,234.30L140.29,234.30Z" fill="#0000ff"/>
<path d="M151.79,227.40L154.59,233.00L148.99,233.00Z" fill="#0000ff"/>
<path d="M160.49,227.10L163.29,232.70L157.69,232.70Z" fill="#0000ff"/>
<path d="M169.19,227.10L171.99,232.70L166.39,232.70Z" fill="#0000ff"/>
<path d="M177.90,225.80L180.70,231.40L175.10,231.40Z" fill="#0000ff"/>
<path d="M186.60,227.10L189.40,232.70L183.80,232.70Z" fill="#0000ff"/>
<path d="M199.65,228.90L202.45,234.50L196.85,234.50Z" fill="#0000ff"/>
<path d="M217.06,223.00L219.86,228.60L214.26,228.60Z" fill="#0000ff"/>
<path d="M234.46,223.60L237.26,229.20L231.66,229.20Z" fill="#0000ff"/>
<path d="M251.87,226.60L254.67,232.20L249.07,232.20Z" fill="#0000ff"/>
<path d="M269.27,223.00L272.07,228.60L266.47,228.60Z" fill="#0000ff"/>
<path d="M286.68,207.10L289.48,212.70L283.88,212.70Z" fill="#0000ff"/>
<path d="M312.79,213.40L315.59,219.00L309.99,219.00Z" fill="#0000ff"/>
<path d="M347.60,217.60L350.40,223.20L344.80,223.20Z" fill="#0000ff"/>
<path d="M56.06,295.60L58.66,299.20L56.06,302.80L53.46,299.20Z" fill="#ff0000"/>
<path d="M64.76,294.00L67.36,297.60L64.76,301.20L62.16,297.60Z" fill="#ff0000"/>
<path d="M73.47,291.50L76.07,295.10L73.47,298.70L70.87,295.10Z" fill="#ff0000"/>
<path d="M82.17,288.80L84.77,292.40L82.17,296.00L79.57,292.40Z" fill="#ff0000"/>
<path d="M90.87,285.90L93.47,289.50L90.87,293.10L88.27,289.50Z" fill="#ff0000"/>
<path d="M99.57,282.40L102.17,286.00L99.57,289.60L96.97,286.00Z" fill="#ff0000"/>
<path d="M108.28,280.00L110.88,283.60L108.28,287.20L105.68,283.60Z" fill="#ff0000"/>
<path d="M116.98,276.50L119.58,280.10L116.98,283.70L114.38,280.10Z" fill="#ff0000"/>
<path d="M125.68,274.50L128.28,278.10L125.68,281.70L123.08,278.10Z" fill="#ff0000"/>
<path d="M134.38,271.00L136.98,274.60L134.38,278.20L131.78,274.60Z" fill="#ff0000"/>
<path d="M143.09,266.70L145.69,270.30L143.09,273.90L140.49,270.30Z" fill="#ff0000"/>
<path d="M151.79,265.70L154.39,269.30L151.79,272.90L149.19,269.30Z" fill="#ff0000"/>
<path d="M160.49,263.50L163.09,267.10L160.49,270.70L157.89,267.10Z" fill="#ff0000"/>
<path d="M169.19,259.60L171.79,263.20L169.19,266.80L166.59,263.20Z" fill="#ff0000"/>
<path d="M177.90,259.10L180.50,262.70L177.90,266.30L175.30,262.70Z" fill="#ff0000"/>
<path d="M186.60,254.80L189.20,258.40L186.60,262.00L184.00,258.40Z" fill="#ff0000"/>
<path d="M199.65,255.50L202.25,259.10L199.65,262.70L197.05,259.10Z" fill="#ff0000"/>
<path d="M217.06,251.60L219.66,255.20L217.06,258.80L214.46,255.20Z" fill="#ff0000"/>
<path d="M234.46,249.30L237.06,252.90L234.46,256.50L231.86,252.90Z" fill="#ff0000"/>
<path d="M251.87,251.60L254.47,255.20L251.87,258.80L249.27,255.20Z" fill="#ff0000"/>
<path d="M269.27,245.00L271.87,248.60L269.27,252.20L266.67,248.60Z" fill="#ff0000"/>
<path d="M286.68,244.20L289.28,247.80L286.68,251.40L284.08,247.80Z" fill="#ff0000"/>
<path d="M312.79,242.70L315.39,246.30L312.79,249.90L310.19,246.30Z" fill="#ff0000"/>
<path d="M347.60,244.40L350.20,248.00L347.60,251.60L345.00,248.00Z" fill="#ff0000"/>
</g>
<g clip-path="url(#crat)">
<path d="M56.06,391.40 L64.76,393.70 L73.47,394.40 L82.17,398.20 L90.87,402.00 L99.57,401.30 L108.28,403.30 L116.98,408.20 L125.68,409.40 L134.38,408.90 L143.09,412.50 L151.79,411.70 L160.49,414.50 L169.19,412.30 L177.90,413.40 L186.60,419.60 L199.65,426.50 L217.06,421.20 L234.46,403.80 L251.87,409.40 L269.27,384.80 L286.68,429.00 L312.79,400.20 L347.60,397.70" stroke="#ff7f7f" stroke-width="1.1" fill="none" stroke-linejoin="round"/>
<path d="M56.06,401.80 L64.76,404.80 L73.47,402.80 L82.17,402.40 L90.87,403.90 L99.57,402.00 L108.28,405.40 L116.98,405.10 L125.68,406.30 L134.38,404.40 L143.09,407.20 L151.79,410.00 L160.49,408.20 L169.19,404.70 L177.90,409.70 L186.60,408.60 L199.65,413.30 L217.06,406.60 L234.46,405.80 L251.87,411.40 L269.27,384.80 L286.68,361.00 L312.79,401.20 L347.60,387.50" stroke="#3a9a3a" stroke-width="1.1" fill="none" stroke-dasharray="3,2" stroke-linejoin="round"/>
<path d="M56.06,385.30 L64.76,383.40 L73.47,384.50 L82.17,386.50 L90.87,388.30 L99.57,387.60 L108.28,392.60 L116.98,392.90 L125.68,393.20 L134.38,389.80 L143.09,391.50 L151.79,397.40 L160.49,395.70 L169.19,396.70 L177.90,392.10 L186.60,397.10 L199.65,398.80 L217.06,381.40 L234.46,389.80 L251.87,390.40 L269.27,359.00 L286.68,352.60 L312.79,385.80 L347.60,351.50" stroke="#9e0c2c" stroke-width="1.25" fill="none" stroke-linejoin="round"/>
<path d="M56.06,389.10 L64.76,390.90 L73.47,391.80 L82.17,394.00 L90.87,396.70 L99.57,396.30 L108.28,400.20 L116.98,401.30 L125.68,402.00 L134.38,401.30 L143.09,403.00 L151.79,408.60 L160.49,406.90 L169.19,406.10 L177.90,406.90 L186.60,410.00 L199.65,415.00 L217.06,397.90 L234.46,403.80 L251.87,405.80 L269.27,382.00 L286.68,364.60 L312.79,394.00 L347.60,379.20" stroke="#0000ff" stroke-width="1.0" fill="none" stroke-linejoin="round"/>
<path d="M56.06,423.60 L64.76,449.70 L73.47,465.20 L82.17,472.00 L90.87,474.30 L99.57,472.50 L108.28,473.20 L116.98,469.40 L125.68,465.60 L134.38,459.70 L143.09,455.80 L151.79,460.40 L160.49,455.10 L169.19,448.20 L177.90,448.20 L186.60,444.80 L199.65,448.80 L217.06,432.40 L234.46,433.80 L251.87,435.70 L269.27,406.60 L286.68,402.10 L312.79,425.50 L347.60,408.40" stroke="#ff0000" stroke-width="1.1" fill="none" stroke-dasharray="1,1" stroke-linejoin="round"/>
<path d="M108.28,401.00V405.50M106.78,401.00h3.0M106.78,405.50h3.0M116.98,406.00V410.50M115.48,406.00h3.0M115.48,410.50h3.0M125.68,407.00V411.50M124.18,407.00h3.0M124.18,411.50h3.0M134.38,406.50V411.00M132.88,406.50h3.0M132.88,411.00h3.0M143.09,410.00V415.00M141.59,410.00h3.0M141.59,415.00h3.0M151.79,409.50V414.00M150.29,409.50h3.0M150.29,414.00h3.0M160.49,412.00V417.00M158.99,412.00h3.0M158.99,417.00h3.0M169.19,409.50V415.00M167.69,409.50h3.0M167.69,415.00h3.0M177.90,411.00V416.00M176.40,411.00h3.0M176.40,416.00h3.0M186.60,414.00V425.00M185.10,414.00h3.0M185.10,425.00h3.0M199.65,421.20V432.40M198.15,421.20h3.0M198.15,432.40h3.0M217.06,414.20V426.80M215.56,414.20h3.0M215.56,426.80h3.0M234.46,398.80V410.00M232.96,398.80h3.0M232.96,410.00h3.0M251.87,402.00V416.00M250.37,402.00h3.0M250.37,416.00h3.0M269.27,370.40V397.30M267.77,370.40h3.0M267.77,397.30h3.0M286.68,401.60V454.30M285.18,401.60h3.0M285.18,454.30h3.0M312.79,395.00V430.00M311.29,395.00h3.0M311.29,430.00h3.0M347.60,392.00V403.00M346.10,392.00h3.0M346.10,403.00h3.0" stroke="#ff7f7f" stroke-width="0.9" fill="none"/>
<path d="M251.87,407.00V415.60M250.37,407.00h3.0M250.37,415.60h3.0M269.27,379.00V391.00M267.77,379.00h3.0M267.77,391.00h3.0M286.68,355.00V367.00M285.18,355.00h3.0M285.18,367.00h3.0M312.79,393.00V407.40M311.29,393.00h3.0M311.29,407.40h3.0M347.60,384.70V391.00M346.10,384.70h3.0M346.10,391.00h3.0" stroke="#3a9a3a" stroke-width="0.9" fill="none"/>
<path d="M269.27,354.00V363.80M267.77,354.00h3.0M267.77,363.80h3.0M286.68,347.00V355.40M285.18,347.00h3.0M285.18,355.40h3.0M312.79,381.60V389.90M311.29,381.60h3.0M311.29,389.90h3.0M347.60,343.00V359.60M346.10,343.00h3.0M346.10,359.60h3.0" stroke="#9e0c2c" stroke-width="0.9" fill="none"/>
<path d="M234.46,398.00V410.00M232.96,398.00h3.0M232.96,410.00h3.0M251.87,400.00V412.00M250.37,400.00h3.0M250.37,412.00h3.0M269.27,376.90V386.60M267.77,376.90h3.0M267.77,386.60h3.0M286.68,356.50V371.50M285.18,356.50h3.0M285.18,371.50h3.0M312.79,392.00V396.00M311.29,392.00h3.0M311.29,396.00h3.0M347.60,371.30V385.80M346.10,371.30h3.0M346.10,385.80h3.0" stroke="#0000ff" stroke-width="0.9" fill="none"/>
<path d="M251.87,432.80V438.20M250.37,432.80h3.0M250.37,438.20h3.0M269.27,402.00V411.00M267.77,402.00h3.0M267.77,411.00h3.0M286.68,398.00V406.00M285.18,398.00h3.0M285.18,406.00h3.0M312.79,421.80V430.10M311.29,421.80h3.0M311.29,430.10h3.0M347.60,403.30V419.80M346.10,403.30h3.0M346.10,419.80h3.0" stroke="#ff0000" stroke-width="0.9" fill="none"/>
<circle cx="56.06" cy="391.40" r="1.9" fill="none" stroke="#ff7f7f" stroke-width="1.1"/>
<circle cx="64.76" cy="393.70" r="1.9" fill="none" stroke="#ff7f7f" stroke-width="1.1"/>
<circle cx="73.47" cy="394.40" r="1.9" fill="none" stroke="#ff7f7f" stroke-width="1.1"/>
<circle cx="82.17" cy="398.20" r="1.9" fill="none" stroke="#ff7f7f" stroke-width="1.1"/>
<circle cx="90.87" cy="402.00" r="1.9" fill="none" stroke="#ff7f7f" stroke-width="1.1"/>
<circle cx="99.57" cy="401.30" r="1.9" fill="none" stroke="#ff7f7f" stroke-width="1.1"/>
<circle cx="108.28" cy="403.30" r="1.9" fill="none" stroke="#ff7f7f" stroke-width="1.1"/>
<circle cx="116.98" cy="408.20" r="1.9" fill="none" stroke="#ff7f7f" stroke-width="1.1"/>
<circle cx="125.68" cy="409.40" r="1.9" fill="none" stroke="#ff7f7f" stroke-width="1.1"/>
<circle cx="134.38" cy="408.90" r="1.9" fill="none" stroke="#ff7f7f" stroke-width="1.1"/>
<circle cx="143.09" cy="412.50" r="1.9" fill="none" stroke="#ff7f7f" stroke-width="1.1"/>
<circle cx="151.79" cy="411.70" r="1.9" fill="none" stroke="#ff7f7f" stroke-width="1.1"/>
<circle cx="160.49" cy="414.50" r="1.9" fill="none" stroke="#ff7f7f" stroke-width="1.1"/>
<circle cx="169.19" cy="412.30" r="1.9" fill="none" stroke="#ff7f7f" stroke-width="1.1"/>
<circle cx="177.90" cy="413.40" r="1.9" fill="none" stroke="#ff7f7f" stroke-width="1.1"/>
<circle cx="186.60" cy="419.60" r="1.9" fill="none" stroke="#ff7f7f" stroke-width="1.1"/>
<circle cx="199.65" cy="426.50" r="1.9" fill="none" stroke="#ff7f7f" stroke-width="1.1"/>
<circle cx="217.06" cy="421.20" r="1.9" fill="none" stroke="#ff7f7f" stroke-width="1.1"/>
<circle cx="234.46" cy="403.80" r="1.9" fill="none" stroke="#ff7f7f" stroke-width="1.1"/>
<circle cx="251.87" cy="409.40" r="1.9" fill="none" stroke="#ff7f7f" stroke-width="1.1"/>
<circle cx="269.27" cy="384.80" r="1.9" fill="none" stroke="#ff7f7f" stroke-width="1.1"/>
<circle cx="286.68" cy="429.00" r="1.9" fill="none" stroke="#ff7f7f" stroke-width="1.1"/>
<circle cx="312.79" cy="400.20" r="1.9" fill="none" stroke="#ff7f7f" stroke-width="1.1"/>
<circle cx="347.60" cy="397.70" r="1.9" fill="none" stroke="#ff7f7f" stroke-width="1.1"/>
<rect x="53.36" y="399.10" width="5.4" height="5.4" fill="none" stroke="#3a9a3a" stroke-width="1.1"/>
<rect x="62.06" y="402.10" width="5.4" height="5.4" fill="none" stroke="#3a9a3a" stroke-width="1.1"/>
<rect x="70.77" y="400.10" width="5.4" height="5.4" fill="none" stroke="#3a9a3a" stroke-width="1.1"/>
<rect x="79.47" y="399.70" width="5.4" height="5.4" fill="none" stroke="#3a9a3a" stroke-width="1.1"/>
<rect x="88.17" y="401.20" width="5.4" height="5.4" fill="none" stroke="#3a9a3a" stroke-width="1.1"/>
<rect x="96.87" y="399.30" width="5.4" height="5.4" fill="none" stroke="#3a9a3a" stroke-width="1.1"/>
<rect x="105.58" y="402.70" width="5.4" height="5.4" fill="none" stroke="#3a9a3a" stroke-width="1.1"/>
<rect x="114.28" y="402.40" width="5.4" height="5.4" fill="none" stroke="#3a9a3a" stroke-width="1.1"/>
<rect x="122.98" y="403.60" width="5.4" height="5.4" fill="none" stroke="#3a9a3a" stroke-width="1.1"/>
<rect x="131.68" y="401.70" width="5.4" height="5.4" fill="none" stroke="#3a9a3a" stroke-width="1.1"/>
<rect x="140.39" y="404.50" width="5.4" height="5.4" fill="none" stroke="#3a9a3a" stroke-width="1.1"/>
<rect x="149.09" y="407.30" width="5.4" height="5.4" fill="none" stroke="#3a9a3a" stroke-width="1.1"/>
<rect x="157.79" y="405.50" width="5.4" height="5.4" fill="none" stroke="#3a9a3a" stroke-width="1.1"/>
<rect x="166.49" y="402.00" width="5.4" height="5.4" fill="none" stroke="#3a9a3a" stroke-width="1.1"/>
<rect x="175.20" y="407.00" width="5.4" height="5.4" fill="none" stroke="#3a9a3a" stroke-width="1.1"/>
<rect x="183.90" y="405.90" width="5.4" height="5.4" fill="none" stroke="#3a9a3a" stroke-width="1.1"/>
<rect x="196.95" y="410.60" width="5.4" height="5.4" fill="none" stroke="#3a9a3a" stroke-width="1.1"/>
<rect x="214.36" y="403.90" width="5.4" height="5.4" fill="none" stroke="#3a9a3a" stroke-width="1.1"/>
<rect x="231.76" y="403.10" width="5.4" height="5.4" fill="none" stroke="#3a9a3a" stroke-width="1.1"/>
<rect x="249.17" y="408.70" width="5.4" height="5.4" fill="none" stroke="#3a9a3a" stroke-width="1.1"/>
<rect x="266.57" y="382.10" width="5.4" height="5.4" fill="none" stroke="#3a9a3a" stroke-width="1.1"/>
<rect x="283.98" y="358.30" width="5.4" height="5.4" fill="none" stroke="#3a9a3a" stroke-width="1.1"/>
<rect x="310.09" y="398.50" width="5.4" height="5.4" fill="none" stroke="#3a9a3a" stroke-width="1.1"/>
<rect x="344.90" y="384.80" width="5.4" height="5.4" fill="none" stroke="#3a9a3a" stroke-width="1.1"/>
<path d="M56.06,382.20L59.16,388.40L52.96,388.40Z" fill="none" stroke="#9e0c2c" stroke-width="1.1" stroke-linejoin="miter"/>
<path d="M64.76,380.30L67.86,386.50L61.66,386.50Z" fill="none" stroke="#9e0c2c" stroke-width="1.1" stroke-linejoin="miter"/>
<path d="M73.47,381.40L76.57,387.60L70.37,387.60Z" fill="none" stroke="#9e0c2c" stroke-width="1.1" stroke-linejoin="miter"/>
<path d="M82.17,383.40L85.27,389.60L79.07,389.60Z" fill="none" stroke="#9e0c2c" stroke-width="1.1" stroke-linejoin="miter"/>
<path d="M90.87,385.20L93.97,391.40L87.77,391.40Z" fill="none" stroke="#9e0c2c" stroke-width="1.1" stroke-linejoin="miter"/>
<path d="M99.57,384.50L102.67,390.70L96.47,390.70Z" fill="none" stroke="#9e0c2c" stroke-width="1.1" stroke-linejoin="miter"/>
<path d="M108.28,389.50L111.38,395.70L105.18,395.70Z" fill="none" stroke="#9e0c2c" stroke-width="1.1" stroke-linejoin="miter"/>
<path d="M116.98,389.80L120.08,396.00L113.88,396.00Z" fill="none" stroke="#9e0c2c" stroke-width="1.1" stroke-linejoin="miter"/>
<path d="M125.68,390.10L128.78,396.30L122.58,396.30Z" fill="none" stroke="#9e0c2c" stroke-width="1.1" stroke-linejoin="miter"/>
<path d="M134.38,386.70L137.48,392.90L131.28,392.90Z" fill="none" stroke="#9e0c2c" stroke-width="1.1" stroke-linejoin="miter"/>
<path d="M143.09,388.40L146.19,394.60L139.99,394.60Z" fill="none" stroke="#9e0c2c" stroke-width="1.1" stroke-linejoin="miter"/>
<path d="M151.79,394.30L154.89,400.50L148.69,400.50Z" fill="none" stroke="#9e0c2c" stroke-width="1.1" stroke-linejoin="miter"/>
<path d="M160.49,392.60L163.59,398.80L157.39,398.80Z" fill="none" stroke="#9e0c2c" stroke-width="1.1" stroke-linejoin="miter"/>
<path d="M169.19,393.60L172.29,399.80L166.09,399.80Z" fill="none" stroke="#9e0c2c" stroke-width="1.1" stroke-linejoin="miter"/>
<path d="M177.90,389.00L181.00,395.20L174.80,395.20Z" fill="none" stroke="#9e0c2c" stroke-width="1.1" stroke-linejoin="miter"/>
<path d="M186.60,394.00L189.70,400.20L183.50,400.20Z" fill="none" stroke="#9e0c2c" stroke-width="1.1" stroke-linejoin="miter"/>
<path d="M199.65,395.70L202.75,401.90L196.55,401.90Z" fill="none" stroke="#9e0c2c" stroke-width="1.1" stroke-linejoin="miter"/>
<path d="M217.06,378.30L220.16,384.50L213.96,384.50Z" fill="none" stroke="#9e0c2c" stroke-width="1.1" stroke-linejoin="miter"/>
<path d="M234.46,386.70L237.56,392.90L231.36,392.90Z" fill="none" stroke="#9e0c2c" stroke-width="1.1" stroke-linejoin="miter"/>
<path d="M251.87,387.30L254.97,393.50L248.77,393.50Z" fill="none" stroke="#9e0c2c" stroke-width="1.1" stroke-linejoin="miter"/>
<path d="M269.27,355.90L272.37,362.10L266.17,362.10Z" fill="none" stroke="#9e0c2c" stroke-width="1.1" stroke-linejoin="miter"/>
<path d="M286.68,349.50L289.78,355.70L283.58,355.70Z" fill="none" stroke="#9e0c2c" stroke-width="1.1" stroke-linejoin="miter"/>
<path d="M312.79,382.70L315.89,388.90L309.69,388.90Z" fill="none" stroke="#9e0c2c" stroke-width="1.1" stroke-linejoin="miter"/>
<path d="M347.60,348.40L350.70,354.60L344.50,354.60Z" fill="none" stroke="#9e0c2c" stroke-width="1.1" stroke-linejoin="miter"/>
<path d="M56.06,386.20L58.86,391.80L53.26,391.80Z" fill="#0000ff"/>
<path d="M64.76,388.00L67.56,393.60L61.96,393.60Z" fill="#0000ff"/>
<path d="M73.47,388.90L76.27,394.50L70.67,394.50Z" fill="#0000ff"/>
<path d="M82.17,391.10L84.97,396.70L79.37,396.70Z" fill="#0000ff"/>
<path d="M90.87,393.80L93.67,399.40L88.07,399.40Z" fill="#0000ff"/>
<path d="M99.57,393.40L102.37,399.00L96.77,399.00Z" fill="#0000ff"/>
<path d="M108.28,397.30L111.08,402.90L105.48,402.90Z" fill="#0000ff"/>
<path d="M116.98,398.40L119.78,404.00L114.18,404.00Z" fill="#0000ff"/>
<path d="M125.68,399.10L128.48,404.70L122.88,404.70Z" fill="#0000ff"/>
<path d="M134.38,398.40L137.18,404.00L131.58,404.00Z" fill="#0000ff"/>
<path d="M143.09,400.10L145.89,405.70L140.29,405.70Z" fill="#0000ff"/>
<path d="M151.79,405.70L154.59,411.30L148.99,411.30Z" fill="#0000ff"/>
<path d="M160.49,404.00L163.29,409.60L157.69,409.60Z" fill="#0000ff"/>
<path d="M169.19,403.20L171.99,408.80L166.39,408.80Z" fill="#0000ff"/>
<path d="M177.90,404.00L180.70,409.60L175.10,409.60Z" fill="#0000ff"/>
<path d="M186.60,407.10L189.40,412.70L183.80,412.70Z" fill="#0000ff"/>
<path d="M199.65,412.10L202.45,417.70L196.85,417.70Z" fill="#0000ff"/>
<path d="M217.06,395.00L219.86,400.60L214.26,400.60Z" fill="#0000ff"/>
<path d="M234.46,400.90L237.26,406.50L231.66,406.50Z" fill="#0000ff"/>
<path d="M251.87,402.90L254.67,408.50L249.07,408.50Z" fill="#0000ff"/>
<path d="M269.27,379.10L272.07,384.70L266.47,384.70Z" fill="#0000ff"/>
<path d="M286.68,361.70L289.48,367.30L283.88,367.30Z" fill="#0000ff"/>
<path d="M312.79,391.10L315.59,396.70L309.99,396.70Z" fill="#0000ff"/>
<path d="M347.60,376.30L350.40,381.90L344.80,381.90Z" fill="#0000ff"/>
<path d="M56.06,420.00L58.66,423.60L56.06,427.20L53.46,423.60Z" fill="#ff0000"/>
<path d="M64.76,446.10L67.36,449.70L64.76,453.30L62.16,449.70Z" fill="#ff0000"/>
<path d="M73.47,461.60L76.07,465.20L73.47,468.80L70.87,465.20Z" fill="#ff0000"/>
<path d="M82.17,468.40L84.77,472.00L82.17,475.60L79.57,472.00Z" fill="#ff0000"/>
<path d="M90.87,470.70L93.47,474.30L90.87,477.90L88.27,474.30Z" fill="#ff0000"/>
<path d="M99.57,468.90L102.17,472.50L99.57,476.10L96.97,472.50Z" fill="#ff0000"/>
<path d="M108.28,469.60L110.88,473.20L108.28,476.80L105.68,473.20Z" fill="#ff0000"/>
<path d="M116.98,465.80L119.58,469.40L116.98,473.00L114.38,469.40Z" fill="#ff0000"/>
<path d="M125.68,462.00L128.28,465.60L125.68,469.20L123.08,465.60Z" fill="#ff0000"/>
<path d="M134.38,456.10L136.98,459.70L134.38,463.30L131.78,459.70Z" fill="#ff0000"/>
<path d="M143.09,452.20L145.69,455.80L143.09,459.40L140.49,455.80Z" fill="#ff0000"/>
<path d="M151.79,456.80L154.39,460.40L151.79,464.00L149.19,460.40Z" fill="#ff0000"/>
<path d="M160.49,451.50L163.09,455.10L160.49,458.70L157.89,455.10Z" fill="#ff0000"/>
<path d="M169.19,444.60L171.79,448.20L169.19,451.80L166.59,448.20Z" fill="#ff0000"/>
<path d="M177.90,444.60L180.50,448.20L177.90,451.80L175.30,448.20Z" fill="#ff0000"/>
<path d="M186.60,441.20L189.20,444.80L186.60,448.40L184.00,444.80Z" fill="#ff0000"/>
<path d="M199.65,445.20L202.25,448.80L199.65,452.40L197.05,448.80Z" fill="#ff0000"/>
<path d="M217.06,428.80L219.66,432.40L217.06,436.00L214.46,432.40Z" fill="#ff0000"/>
<path d="M234.46,430.20L237.06,433.80L234.46,437.40L231.86,433.80Z" fill="#ff0000"/>
<path d="M251.87,432.10L254.47,435.70L251.87,439.30L249.27,435.70Z" fill="#ff0000"/>
<path d="M269.27,403.00L271.87,406.60L269.27,410.20L266.67,406.60Z" fill="#ff0000"/>
<path d="M286.68,398.50L289.28,402.10L286.68,405.70L284.08,402.10Z" fill="#ff0000"/>
<path d="M312.79,421.90L315.39,425.50L312.79,429.10L310.19,425.50Z" fill="#ff0000"/>
<path d="M347.60,404.80L350.20,408.40L347.60,412.00L345.00,408.40Z" fill="#ff0000"/>
</g>
</svg>
</body></html>
